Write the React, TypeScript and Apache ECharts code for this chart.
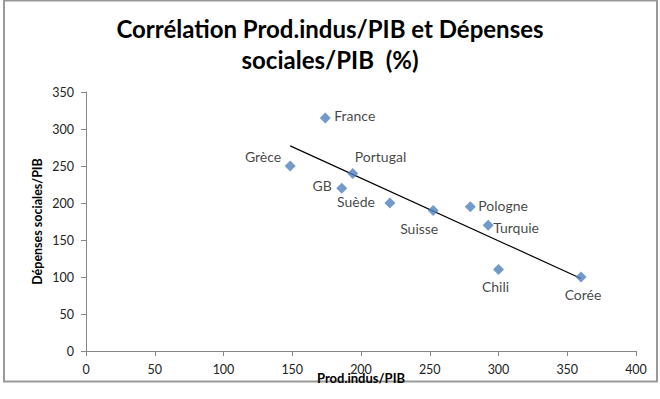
import React, { useEffect, useRef } from "react";
import * as echarts from "echarts";

const countries = ["France", "Grèce", "Portugal", "GB", "Suède", "Suisse", "Pologne", "Turquie", "Chili", "Corée"];
const prodIndus = [174, 148.5, 194, 186, 221, 252.5, 279.5, 292.5, 300, 360];
const depSociales = [315, 250, 240, 220, 200, 190, 195, 170, 110, 100];
const xTicks = { min: 0, max: 400, interval: 50 };
const yTicks = { min: 0, max: 350, interval: 50 };

// label placement per point: [align, dx, dy]
const labelPlacement: [string, number, number][] = [
  ["left", 9, -2],
  ["right", -9, -10],
  ["left", 2, -17],
  ["right", -10, -3],
  ["right", -15, -2],
  ["center", -14, 18],
  ["left", 8, -1],
  ["left", 5, 2],
  ["center", -3, 17],
  ["center", 2, 17],
];

function regression(xs: number[], ys: number[]) {
  const n = xs.length;
  const mx = xs.reduce((a, b) => a + b, 0) / n;
  const my = ys.reduce((a, b) => a + b, 0) / n;
  let sxy = 0, sxx = 0;
  for (let i = 0; i < n; i++) {
    sxy += (xs[i] - mx) * (ys[i] - my);
    sxx += (xs[i] - mx) * (xs[i] - mx);
  }
  const slope = sxy / sxx;
  return (x: number) => my + slope * (x - mx);
}

const FONT = "Lato, 'Open Sans', sans-serif";

export default function App() {
  const ref = useRef<HTMLDivElement>(null);
  useEffect(() => {
    if (!ref.current) return;
    const chart = echarts.init(ref.current, undefined, { renderer: "svg" });
    const f = regression(prodIndus, depSociales);
    const xMin = Math.min(...prodIndus);
    const xMax = Math.max(...prodIndus);
    chart.setOption({
      animation: false,
      backgroundColor: "#fff",
      textStyle: { fontFamily: FONT },
      title: {
        text: "Corrélation Prod.indus/PIB et Dépenses\nsociales/PIB  (%)",
        left: "center",
        top: 8,
        textStyle: { fontFamily: FONT, fontSize: 24, fontWeight: "bold", color: "#000", lineHeight: 31 },
      },
      graphic: [
        {
          type: "rect",
          shape: { x: 4, y: 0.5, width: 653, height: 381 },
          style: { fill: "none", stroke: "#999", lineWidth: 2 },
          silent: true,
        },
      ],
      grid: { left: 86, right: 24, top: 92, bottom: 48 },
      xAxis: {
        type: "value",
        min: xTicks.min,
        max: xTicks.max,
        interval: xTicks.interval,
        name: "Prod.indus/PIB",
        nameLocation: "middle",
        nameGap: 20,
        nameMoveOverlap: false,
        nameTextStyle: { fontFamily: FONT, fontSize: 13, fontWeight: "bold", color: "#000" },
        splitLine: { show: false },
        axisLine: { lineStyle: { color: "#868686" } },
        axisTick: { show: true, inside: false, length: 5, lineStyle: { color: "#868686" } },
        axisLabel: { fontFamily: FONT, fontSize: 12.5, color: "#222", margin: 12 },
      },
      yAxis: {
        type: "value",
        min: yTicks.min,
        max: yTicks.max,
        interval: yTicks.interval,
        name: "Dépenses sociales/PIB",
        nameLocation: "middle",
        nameGap: 42,
        nameMoveOverlap: false,
        nameTextStyle: { fontFamily: FONT, fontSize: 12.5, fontWeight: "bold", color: "#000" },
        splitLine: { show: false },
        axisLine: { show: true, lineStyle: { color: "#868686" } },
        axisTick: { show: true, inside: false, length: 5, lineStyle: { color: "#868686" } },
        axisLabel: { fontFamily: FONT, fontSize: 12.5, color: "#222", margin: 12 },
      },
      series: [
        {
          type: "line",
          data: [[xMin, f(xMin)], [xMax, f(xMax)]],
          symbol: "none",
          lineStyle: { color: "#000", width: 1.2 },
          silent: true,
          z: 1,
        },
        {
          type: "scatter",
          symbol: "diamond",
          symbolSize: 11,
          itemStyle: { color: "#4F81BD" },
          z: 2,
          data: countries.map((c, i) => ({
            name: c,
            value: [prodIndus[i], depSociales[i]],
            label: {
              show: true,
              position: "inside",
              formatter: "{b}",
              align: labelPlacement[i][0],
              verticalAlign: "middle",
              offset: [labelPlacement[i][1], labelPlacement[i][2]],
              fontFamily: FONT,
              fontSize: 14,
              color: "#111",
            },
          })),
        },
      ],
    });
    return () => chart.dispose();
  }, []);
  return (
    <div
      ref={ref}
      style={{ position: "fixed", left: 0, top: 0, width: 660, height: 399 }}
    />
  );
}
